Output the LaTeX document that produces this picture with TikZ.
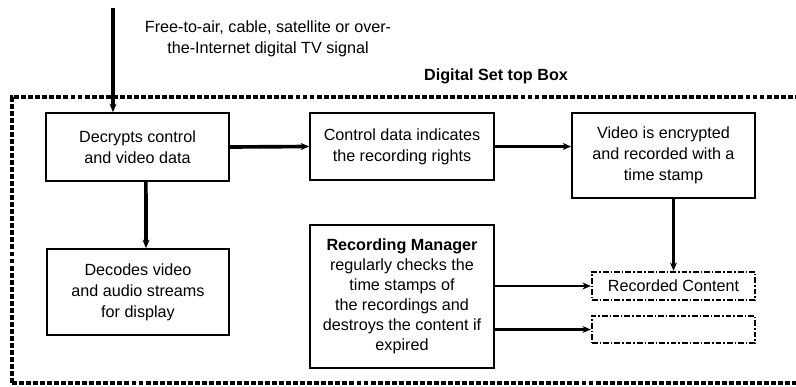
\documentclass[tikz,border=0pt]{standalone}
\usepackage{fontspec}
\setmainfont{Liberation Sans}
\usetikzlibrary{arrows.meta}

\begin{document}
\begin{tikzpicture}[x=0.025cm,y=-0.025cm,
    font=\fontsize{11.5}{15}\selectfont,
    stbbox/.style={draw,line width=1.2pt,align=center,inner sep=2pt},
    storebox/.style={draw,line width=1.6pt,dash pattern=on 4pt off 1.5pt on 1pt off 1.5pt},
    arr/.style={-{Stealth[length=6pt,width=5pt]},line width=2.6pt},
    thinarr/.style={-{Stealth[length=6pt,width=5pt]},line width=1.3pt}]
    \useasboundingbox (0,0) rectangle (796,387);
    \clip (0,0) rectangle (796,387);
    % set top box frame
    \draw[line width=2.4pt,dash pattern=on 3.5pt off 1.5pt] (12,383) -- (12,97) -- (820,97);
    \draw[line width=2.4pt,dash pattern=on 3.5pt off 1.5pt] (12,383) -- (820,383);
    \node[font=\fontsize{11.5}{13}\selectfont\bfseries] (stb) at (496,76) {Digital Set top Box};
    \node[align=center] (signal) at (268,38.5) {Free-to-air, cable, satellite or over-\\the-Internet digital TV signal};
    % blocks
    \node[stbbox,minimum width=4.575cm,minimum height=1.7cm] (decrypt) at (137.5,147) {Decrypts control\\and video data};
    \node[stbbox,minimum width=4.55cm,minimum height=2.15cm] (decode) at (138,292) {Decodes video\\and audio streams\\for display};
    \node[stbbox,minimum width=4.6cm,minimum height=1.675cm] (rights) at (402,146.5) {Control data indicates\\the recording rights};
    \node[stbbox,minimum width=4.575cm,minimum height=2.125cm] (encrypt) at (663.5,155.5) {Video is encrypted\\and recorded with a\\time stamp};
    \node[stbbox,minimum width=4.6cm,minimum height=3.575cm,font=\fontsize{11.5}{14.3}\selectfont] (manager) at (402,296.5) {\textbf{Recording Manager}\\regularly checks the\\time stamps of\\the recordings and\\destroys the content if\\expired};
    \node[storebox,minimum width=4.075cm,minimum height=0.7cm] (content) at (673.5,286) {Recorded Content};
    \node[storebox,minimum width=4.075cm,minimum height=0.675cm] (expired) at (673.5,329.5) {};
    % connectors
    \coordinate (tv) at (113,8);
    \draw[arr,line width=3.2pt] (tv) -- (tv |- decrypt.north);
    \draw[arr] (decrypt.east) -- (rights.west);
    \draw[arr] (rights.east) -- (rights.east -| encrypt.west);
    \draw[arr] ([xshift=0.21cm]decrypt.south) -- ([xshift=0.2cm]decode.north);
    \draw[arr] (content.north |- encrypt.south) -- (content.north);
    \draw[thinarr] (manager.east |- content.west) -- (content.west);
    \draw[arr] (manager.east |- expired.west) -- (expired.west);
\end{tikzpicture}
\end{document}
